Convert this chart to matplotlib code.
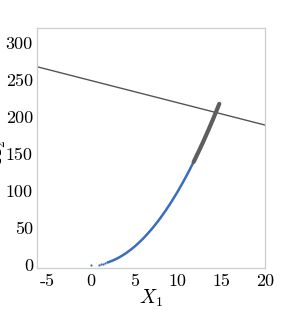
import matplotlib
matplotlib.use("Agg")
import matplotlib.pyplot as plt

plt.rcParams['font.family'] = 'serif'
plt.rcParams['font.serif'] = ['cmr10']
plt.rcParams['mathtext.fontset'] = 'cm'
plt.rcParams['axes.unicode_minus'] = False
plt.rcParams['axes.formatter.use_mathtext'] = False

# droite de separation
ligne_x = [-6.2, 20]
ligne_y = [267.6, 189]

# premiers points (espaces)
debut_x = [0.05, 0.9, 1.15, 1.4, 1.65]
debut_y = [0.0, 0.8, 1.3, 2.0, 2.7]

# trajectoire bleue
bleu_x = [1.9, 2.5, 3.0, 3.5, 4.0, 4.5, 5.0, 5.5, 6.0, 6.5, 7.0, 7.5, 8.0,
          8.5, 9.0, 9.5, 10.0, 10.5, 11.0, 11.5, 11.8]
bleu_y = [3.6, 6.3, 9.0, 12.3, 16.0, 20.3, 25.0, 30.3, 36.0, 42.3, 49.0, 56.3,
          64.0, 72.3, 81.0, 90.3, 100.0, 110.3, 121.0, 132.3, 139.2]

# trajectoire grise
gris_x = [11.8, 12.5, 13.0, 13.5, 14.0, 14.4, 14.75]
gris_y = [139.2, 156.3, 169.0, 182.3, 196.0, 207.4, 217.6]

fig = plt.figure(figsize=(2.97, 3.10), dpi=100)
ax = fig.add_axes([0.125, 0.135, 0.767, 0.775])

ax.plot(ligne_x, ligne_y, color='#555555', lw=1.0)
ax.plot(debut_x, debut_y, 'o', color='#3a6cc0', ms=1.6, mew=0)
ax.plot(bleu_x, bleu_y, '-', color='#3a6cc0', lw=1.8, solid_capstyle='round')
ax.plot(gris_x, gris_y, '-', color='#5e5e5e', lw=3.0, solid_capstyle='round')

ax.set_xlim(-6.2, 20)
ax.set_ylim(-4, 320)
ax.set_xticks([-5, 0, 5, 10, 15, 20])
ax.set_yticks([0, 50, 100, 150, 200, 250, 300])
ax.tick_params(length=0, labelsize=13)
ax.tick_params(axis='x', pad=4)
ax.tick_params(axis='y', pad=3)
for s in ax.spines.values():
    s.set_color('#cccccc')
    s.set_linewidth(0.9)

ax.set_xlabel(r'$X_1$', fontsize=14, labelpad=-1)
fig.text(-0.01, 0.51, r'$X_2$', fontsize=14, rotation=90, ha='center', va='center')

fig.savefig('out.png', dpi=100)
